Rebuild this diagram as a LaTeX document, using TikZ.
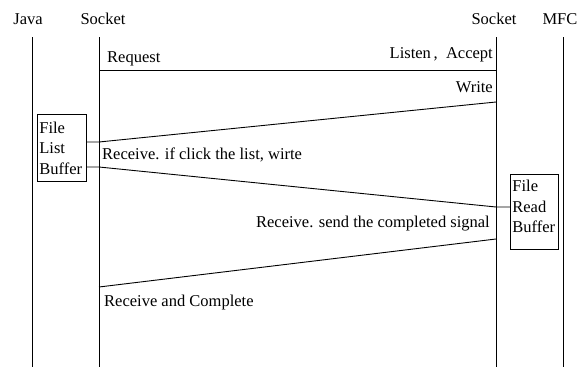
\documentclass[tikz,border=0pt]{standalone}
\usepackage{fontspec}
\setmainfont{Liberation Serif}
\begin{document}
\begin{tikzpicture}[x=1pt,y=-1pt,
  lbl/.style={inner sep=0pt,font=\fontsize{16.5}{19}\selectfont},
  life/.style={line width=0.9pt},
  msg/.style={line width=0.9pt},
  buf/.style={draw,line width=0.8pt,inner xsep=2pt,inner ysep=0pt,align=left,font=\fontsize{16.5}{20.5}\selectfont,anchor=north west}]
\useasboundingbox (0,0) rectangle (587,367);
% headers
\node[lbl] (hjava) at (28,19) {Java};
\node[lbl] (hsl) at (103,19) {Socket};
\node[lbl] (hsr) at (494,19) {Socket};
\node[lbl] (hmfc) at (560,19) {MFC};
% lifelines
\coordinate (jt) at (32,37); \coordinate (jb) at (32,367);
\coordinate (slt) at (99,37); \coordinate (slb) at (99,367);
\coordinate (srt) at (496,37); \coordinate (srb) at (496,367);
\coordinate (mt) at (563,37); \coordinate (mb) at (563,367);
\draw[life] (jt) -- (jb);
\draw[life] (slt) -- (slb);
\draw[life] (srt) -- (srb);
\draw[life] (mt) -- (mb);
% boxes
\node[buf,minimum width=49pt,minimum height=67pt,text width=45pt] (flb) at (37,114) {File\\List\\Buffer};
\node[buf,minimum width=48pt,minimum height=75pt,text width=44pt] (frb) at (510,174) {File\\Read\\Buffer\vspace{11pt}};
% message points
\coordinate (req1) at (99,70); \coordinate (req2) at (496,70);
\coordinate (w1) at (496,102); \coordinate (w2) at (99,142);
\coordinate (r1) at (99,167); \coordinate (r2) at (496,207);
\coordinate (s1) at (496,239); \coordinate (s2) at (99,287);
\draw[msg] (req1) -- (req2);
\draw[msg] (w1) -- (w2) -- (flb.east |- w2);
\draw[msg] (flb.east |- r1) -- (r1) -- (r2) -- (frb.west |- r2);
\draw[msg] (s1) -- (s2);
% labels
\node[lbl,anchor=west] (lreq) at (107,59) {Request};
\node[lbl,anchor=east] (llis) at (493,55) {Listen\,,\ \ Accept};
\node[lbl,anchor=east] (lwr) at (493,87) {Write};
\node[lbl,anchor=west] (lrc1) at (102,155) {Receive. if click the list, wirte};
\node[lbl,anchor=east] (lrc2) at (490,224) {Receive. send the completed signal};
\node[lbl,anchor=west] (lrc3) at (104,303) {Receive and Complete};
\end{tikzpicture}
\end{document}
